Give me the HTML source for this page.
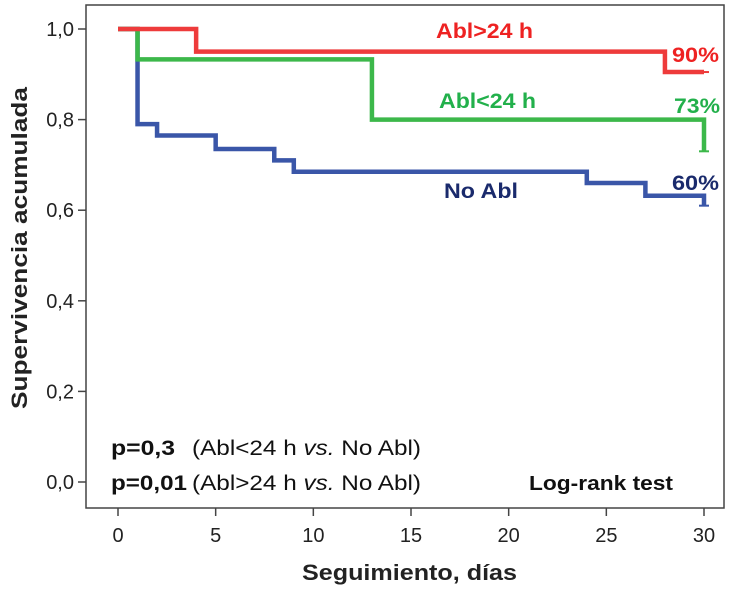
<!DOCTYPE html>
<html><head><meta charset="utf-8"><style>
body{margin:0;background:#fff;}
svg{display:block;font-family:"Liberation Sans",Arial,sans-serif;}
</style></head><body>
<svg width="741" height="590" viewBox="0 0 741 590">
<rect x="86" y="5" width="638" height="503" fill="#fff" stroke="#444" stroke-width="1.5"/>
<g id="axes"></g>
<g id="curves"></g>
<text x="0" y="0" transform="translate(27 248) rotate(-90)" font-size="22" font-weight="bold" fill="#222" text-anchor="middle" textLength="322" lengthAdjust="spacingAndGlyphs">Supervivencia acumulada</text>
<text x="302" y="580" font-size="22" font-weight="bold" fill="#222" textLength="215" lengthAdjust="spacingAndGlyphs">Seguimiento, días</text>
<text x="436" y="38" font-size="21" font-weight="bold" fill="#ee2222" textLength="97" lengthAdjust="spacingAndGlyphs">Abl&gt;24 h</text>
<text x="439" y="108" font-size="21" font-weight="bold" fill="#22b04b" textLength="97" lengthAdjust="spacingAndGlyphs">Abl&lt;24 h</text>
<text x="444" y="198" font-size="21" font-weight="bold" fill="#1a2a6c" textLength="74" lengthAdjust="spacingAndGlyphs">No Abl</text>
<text x="672" y="62" font-size="21" font-weight="bold" fill="#ee2222" textLength="47" lengthAdjust="spacingAndGlyphs">90%</text>
<text x="674" y="113" font-size="21" font-weight="bold" fill="#22b04b" textLength="46" lengthAdjust="spacingAndGlyphs">73%</text>
<text x="672" y="190" font-size="21" font-weight="bold" fill="#1a2a6c" textLength="47" lengthAdjust="spacingAndGlyphs">60%</text>
<g>
<text x="111" y="455" font-size="21" font-weight="bold" fill="#111" textLength="64" lengthAdjust="spacingAndGlyphs">p=0,3</text>
<text x="192" y="455" font-size="21" fill="#111" textLength="229" lengthAdjust="spacingAndGlyphs">(Abl&lt;24 h <tspan font-style="italic">vs.</tspan> No Abl)</text>
</g>
<g>
<text x="111" y="490" font-size="21" font-weight="bold" fill="#111" textLength="76" lengthAdjust="spacingAndGlyphs">p=0,01</text>
<text x="192" y="490" font-size="21" fill="#111" textLength="229" lengthAdjust="spacingAndGlyphs">(Abl&gt;24 h <tspan font-style="italic">vs.</tspan> No Abl)</text>
</g>
<text x="529" y="490" font-size="20" font-weight="bold" fill="#111" textLength="144" lengthAdjust="spacingAndGlyphs">Log-rank test</text>
</svg>
<script>
const xTicks=[0,5,10,15,20,25,30];
const yTicks=[0,0.2,0.4,0.6,0.8,1.0];
const yTickLabels=["0,0","0,2","0,4","0,6","0,8","1,0"];
const redTimes=[0,4,28,30];
const redSurv=[1.0,0.95,0.905,0.905];
const greenTimes=[0,1,13,30];
const greenSurv=[1.0,0.933,0.8,0.8];
const blueTimes=[0,1,2,5,8,9,24,27,30];
const blueSurv=[1.0,0.79,0.765,0.735,0.71,0.685,0.66,0.632,0.632];
const censorEnd={red:0.905,green:0.73,blue:0.61};
const X=t=>118+t*(704-118)/30;
const Y=v=>482-v*(482-29);
const NS="http://www.w3.org/2000/svg";
const ax=document.getElementById('axes'), cv=document.getElementById('curves');
function mk(tag,attrs,parent){const e=document.createElementNS(NS,tag);for(const k in attrs)e.setAttribute(k,attrs[k]);parent.appendChild(e);return e;}
xTicks.forEach(t=>{
 const l=mk('line',{x1:X(t),x2:X(t),y1:508,y2:516,stroke:'#444','stroke-width':1.5},ax);
 
 
 const tx=mk('text',{x:X(t),y:542,'font-size':20,'text-anchor':'middle',fill:'#222'},ax);
 tx.textContent=t;
 
 
});
yTicks.forEach((v,i)=>{
 const l=mk('line',{x1:78,x2:86,y1:Y(v),y2:Y(v),stroke:'#444','stroke-width':1.5},ax);
 
 
 const tx=mk('text',{x:74,y:Y(v)+7,'font-size':20,'text-anchor':'end',fill:'#222'},ax);
 tx.textContent=yTickLabels[i];
 
 
});
function curve(times,surv,color,name,end){
 let d='M'+X(times[0])+','+Y(surv[0]);
 for(let i=1;i<times.length;i++){d+=' H'+X(times[i])+' V'+Y(surv[i]);}
 d+=' V'+Y(end);
 const p=mk('path',{d:d,fill:'none',stroke:color,'stroke-width':4.5,'stroke-linejoin':'miter'},cv);
 
 
 const c=mk('line',{x1:X(30)-5,x2:X(30)+5,y1:Y(end),y2:Y(end),stroke:color,'stroke-width':2},cv);
 
 
}
curve(blueTimes,blueSurv,'#3a56a8','curve-no-abl',censorEnd.blue);
curve(greenTimes,greenSurv,'#3cb84a','curve-abl-lt24',censorEnd.green);
curve(redTimes,redSurv,'#ee3b3b','curve-abl-gt24',censorEnd.red);
</script>
</body></html>
